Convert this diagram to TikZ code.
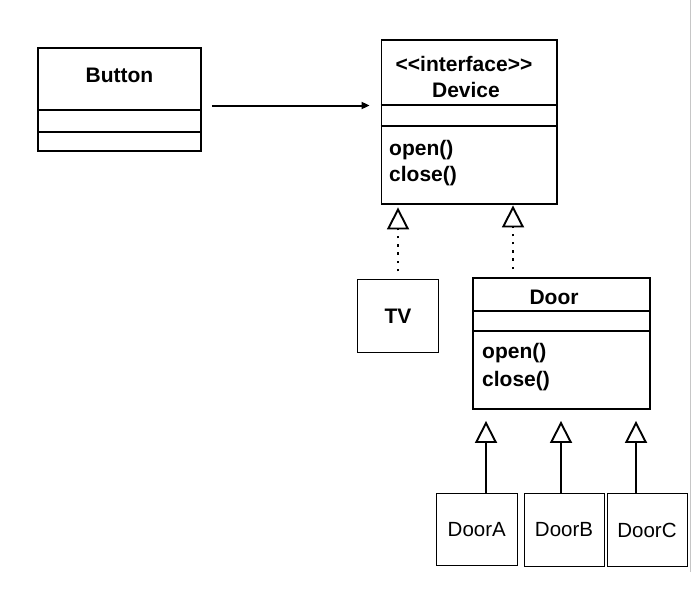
\documentclass[tikz,border=0pt]{standalone}
\usepackage{fontspec}
\setmainfont{Liberation Sans}
\usetikzlibrary{positioning,arrows.meta}

\begin{document}
\begin{tikzpicture}[x=1pt,y=-1pt,
  cls/.style={draw,line width=1.9pt,inner sep=0pt},
  obj/.style={draw,line width=1pt,inner sep=0pt,minimum width=80.5pt,minimum height=72.5pt,font=\fontsize{20.5}{24}\selectfont},
  title/.style={inner sep=0pt,anchor=base,font=\fontsize{21}{24}\selectfont\bfseries},
  meth/.style={inner sep=0pt,anchor=base west,font=\fontsize{21}{24}\selectfont\bfseries},
  assoc/.style={line width=2pt,-{Triangle[length=8pt,width=7pt]},shorten <=10pt,shorten >=11pt},
  realize/.style={line width=2.4pt,dash pattern=on 2.4pt off 5.8pt,-{Triangle[open,length=22pt,width=22pt,line width=1.9pt]},shorten <=8pt},
  inherit/.style={line width=1.9pt,-{Triangle[open,length=22pt,width=22pt,line width=1.9pt]},shorten >=11pt}]
\useasboundingbox (0,0) rectangle (691,594);
\fill[white] (0,0) rectangle (691,594);
\draw[gray!45,line width=1pt] (690.5,0) -- (690.5,572);
% classes
\node[cls,minimum width=163pt,minimum height=103pt] (button) at (119.5,99.5) {};
\node[title] (buttonName) at (119.5,82.7) {Button};
\draw[line width=1.9pt] ([yshift=-63pt]button.north west) -- ([yshift=-63pt]button.north east);
\draw[line width=1.9pt] ([yshift=-84.5pt]button.north west) -- ([yshift=-84.5pt]button.north east);

\node[cls,minimum width=175.5pt,minimum height=164pt] (device) at (469.25,122) {};
\node[title] (deviceStereo) at (464,71) {{<}{<}interface{>}{>}};
\node[title] (deviceName) at (466,97.3) {Device};
\draw[line width=1.9pt] ([yshift=-65.5pt]device.north west) -- ([yshift=-65.5pt]device.north east);
\draw[line width=1.9pt] ([yshift=-87pt]device.north west) -- ([yshift=-87pt]device.north east);
\node[meth] (deviceOpen) at (389,155) {open()};
\node[meth] (deviceClose) at (389,181.7) {close()};

\node[obj,font=\fontsize{21}{24}\selectfont\bfseries] (tv) at (398,316) {TV};

\node[cls,minimum width=177pt,minimum height=131pt] (door) at (561.5,343.5) {};
\node[title] (doorName) at (554,304) {Door};
\draw[line width=1.9pt] ([yshift=-34pt]door.north west) -- ([yshift=-34pt]door.north east);
\draw[line width=1.9pt] ([yshift=-54pt]door.north west) -- ([yshift=-54pt]door.north east);
\node[meth] (doorOpen) at (482,358.3) {open()};
\node[meth] (doorClose) at (482,386) {close()};

\node[obj] (doorA) at (476.75,529.25) {DoorA};
\node[obj,minimum width=80pt] (doorB) at (564,530) {DoorB};
\node[obj,minimum width=80pt] (doorC) at (647,530) {DoorC};

% connectors
\coordinate (assocY) at (0,105.5);
\coordinate (doorX) at (513,0);
\coordinate (aX) at (486,0);
\coordinate (bX) at (561,0);
\coordinate (cX) at (636,0);
\draw[assoc] (button.east |- assocY) -- (device.west |- assocY);
\draw[realize,shorten >=2.5pt] (tv.north) -- (tv.north |- device.south);
\draw[realize,shorten >=0.5pt] (door.north -| doorX) -- (device.south -| doorX);
\draw[inherit] (doorA.north -| aX) -- (door.south -| aX);
\draw[inherit] (doorB.north -| bX) -- (door.south -| bX);
\draw[inherit] (doorC.north -| cX) -- (door.south -| cX);
\end{tikzpicture}
\end{document}
